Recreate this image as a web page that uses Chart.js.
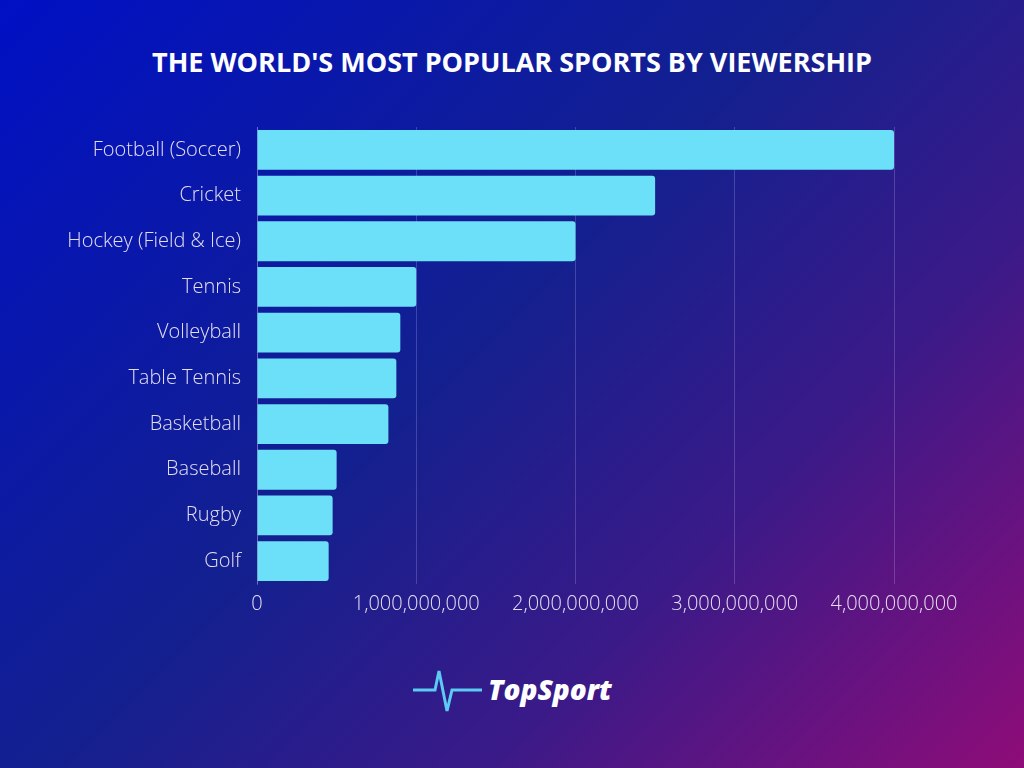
<!DOCTYPE html>
<html>
<head>
<meta charset="utf-8">
<script src="https://cdn.jsdelivr.net/npm/chart.js@4"></script>
<style>
  html, body { margin: 0; padding: 0; }
  body {
    width: 1024px; height: 768px; overflow: hidden; position: relative;
    background: linear-gradient(135deg, #0010c4 0%, #13208f 45%, #3a1a88 70%, #8e0c78 100%);
    font-family: "Open Sans", sans-serif;
  }
  h1 {
    position: absolute; left: 0; top: 40px; width: 1024px; margin: 0;
    text-align: center; color: #fff; font-size: 27px; font-weight: 700;
    line-height: 44px;
  }
  .wrap { position: absolute; left: 0; top: 99px; width: 1024px; height: 525px; }
  .logo { position: absolute; left: 412px; top: 668px; height: 48px; }
  .logo svg { position: absolute; left: 0; top: 0; }
  .logo span {
    position: absolute; left: 76px; top: 2px; color: #fff;
    font-size: 28px; font-weight: 800; font-style: italic; white-space: nowrap;
  }
</style>
</head>
<body>
<h1>THE WORLD'S MOST POPULAR SPORTS BY VIEWERSHIP</h1>
<div class="wrap"><canvas id="chart"></canvas></div>
<div class="logo">
  <svg width="74" height="48" viewBox="0 0 74 48">
    <polyline points="1,22 23,22 27,3 35,43 40,22 70,22" fill="none" stroke="#5ccaf2" stroke-width="3" stroke-linejoin="miter"/>
  </svg>
  <span>TopSport</span>
</div>
<script>
const sports = [
  'Football (Soccer)',
  'Cricket',
  'Hockey (Field & Ice)',
  'Tennis',
  'Volleyball',
  'Table Tennis',
  'Basketball',
  'Baseball',
  'Rugby',
  'Golf',
];

const viewers = [4000000000, 2500000000, 2000000000, 1000000000, 900000000, 875000000, 825000000, 500000000, 475000000, 450000000];

const xTicks = [0, 1000000000, 2000000000, 3000000000, 4000000000];

const data = {
  labels: sports,
  datasets: [{
    label: 'Viewers',
    data: viewers,
    backgroundColor: '#6ce0f8',
    borderWidth: 0,
    borderRadius: 3,
    barPercentage: 0.87,
    categoryPercentage: 1,
  }]
};

const config = {
  type: 'bar',
  data,
  options: {
    indexAxis: 'y',
    maintainAspectRatio: false,
    responsive: true,
    animation: false,
    layout: { padding: { top: 10, right: 130, left: 0, bottom: 0 } },
    plugins: { legend: { display: false }, tooltip: { enabled: false } },
    scales: {
      x: {
        min: 0,
        max: xTicks[xTicks.length - 1],
        afterBuildTicks: (scale) => { scale.ticks = xTicks.map(v => ({ value: v })); },
        afterFit: (scale) => { scale.height = 40; },
        grid: { color: 'rgba(220,210,255,0.22)', drawTicks: false, lineWidth: 1 },
        border: { display: false },
        ticks: {
          color: '#e4def2',
          padding: 8,
          font: { family: 'Open Sans', size: 20, weight: 300 },
          callback: (v) => Number(v).toLocaleString('en-US'),
        },
      },
      y: {
        afterFit: (scale) => { scale.width = 257; },
        grid: { display: false, drawTicks: false },
        border: { display: true, color: 'rgba(220,210,255,0.3)' },
        ticks: {
          color: '#e4def2',
          padding: 16,
          font: { family: 'Open Sans', size: 20, weight: 300 },
        },
      },
    },
  },
};

var myChart = new Chart(document.getElementById('chart'), config);
</script>
</body>
</html>
